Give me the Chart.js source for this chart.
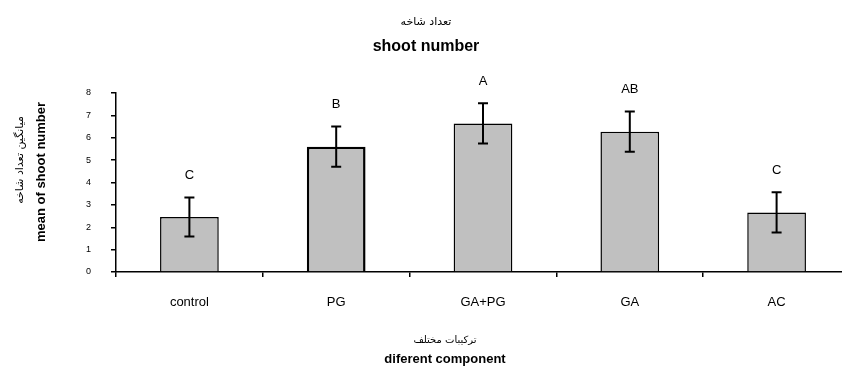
<!DOCTYPE html>
<html>
<head>
<meta charset="utf-8">
<script src="https://cdn.jsdelivr.net/npm/chart.js@4/dist/chart.umd.min.js"></script>
<style>
html,body{margin:0;padding:0;background:#fff;overflow:hidden;width:842px;height:367px;}
#wrap{width:852px;height:367px;}
</style>
</head>
<body>
<div id="wrap"><canvas id="c" width="852" height="367"></canvas></div>
<script>
const categories = ['control', 'PG', 'GA+PG', 'GA', 'AC'];
const means = [2.46, 5.60, 6.64, 6.27, 2.66];
const errors = [0.87, 0.90, 0.90, 0.90, 0.90];
const letters = ['C', 'B', 'A', 'AB', 'C'];
const yMin = 0, yMax = 8, yStep = 1;

const titleFa = 'تعداد شاخه';
const titleEn = 'shoot number';
const yTitleFa = 'میانگین تعداد شاخه';
const yTitleEn = 'mean of shoot number';
const xTitleFa = 'ترکیبات مختلف';
const xTitleEn = 'diferent component';

const extras = {
  id: 'extras',
  afterDatasetsDraw(chart) {
    const ctx = chart.ctx;
    const ys = chart.scales.y;
    const meta = chart.getDatasetMeta(0);
    ctx.save();
    // error bars
    ctx.strokeStyle = '#000';
    ctx.lineWidth = 2;
    meta.data.forEach((bar, i) => {
      const x = bar.x;
      const yt = ys.getPixelForValue(means[i] + errors[i]);
      const yb = ys.getPixelForValue(means[i] - errors[i]);
      ctx.beginPath();
      ctx.moveTo(x, yt); ctx.lineTo(x, yb);
      ctx.moveTo(x - 5, yt); ctx.lineTo(x + 5, yt);
      ctx.moveTo(x - 5, yb); ctx.lineTo(x + 5, yb);
      ctx.stroke();
      // significance letters
      ctx.fillStyle = '#000';
      ctx.font = '13px "Liberation Sans", Arial, sans-serif';
      ctx.textAlign = 'center';
      ctx.textBaseline = 'middle';
      ctx.fillText(letters[i], x, yt - 22);
    });
    ctx.restore();
  },
  afterDraw(chart) {
    const ctx = chart.ctx;
    ctx.save();
    ctx.fillStyle = '#000';
    ctx.textAlign = 'center';
    ctx.textBaseline = 'middle';
    // chart title
    ctx.font = '11px "DejaVu Sans", sans-serif';
    ctx.fillText(titleFa, 426, 22);
    ctx.font = 'bold 16px "Liberation Sans", Arial, sans-serif';
    ctx.fillText(titleEn, 426, 47);
    // x title
    ctx.font = '10px "DejaVu Sans", sans-serif';
    ctx.fillText(xTitleFa, 445, 340);
    ctx.font = 'bold 13px "Liberation Sans", Arial, sans-serif';
    ctx.fillText(xTitleEn, 445, 359);
    // y titles
    ctx.save();
    ctx.translate(20, 160);
    ctx.rotate(-Math.PI / 2);
    ctx.font = '11px "DejaVu Sans", sans-serif';
    ctx.fillText(yTitleFa, 0, 0);
    ctx.restore();
    ctx.save();
    ctx.translate(41, 172);
    ctx.rotate(-Math.PI / 2);
    ctx.font = 'bold 13px "Liberation Sans", Arial, sans-serif';
    ctx.fillText(yTitleEn, 0, 0);
    ctx.restore();
    ctx.restore();
  }
};

new Chart(document.getElementById('c'), {
  type: 'bar',
  data: {
    labels: categories,
    datasets: [{
      data: means,
      backgroundColor: '#c0c0c0',
      borderColor: '#000',
      borderWidth: [1.5, 2.5, 1.5, 1.5, 1.5],
      barPercentage: 0.40,
      categoryPercentage: 1.0
    }]
  },
  options: {
    responsive: false,
    animation: false,
    layout: { padding: { left: 0, right: 2, top: 93, bottom: 0 } },
    plugins: { legend: { display: false }, title: { display: false }, tooltip: { enabled: false } },
    scales: {
      x: {
        grid: { display: true, drawOnChartArea: false, drawTicks: true, tickLength: 5, color: '#000', lineWidth: 1.5, offset: true },
        border: { display: true, color: '#000', width: 1.5 },
        ticks: { color: '#000', padding: 18, font: { family: '"Liberation Sans", Arial, sans-serif', size: 13 }, maxRotation: 0 },
        afterFit(s) { s.height = 95; }
      },
      y: {
        min: yMin, max: yMax,
        grid: { display: true, drawOnChartArea: false, drawTicks: true, tickLength: 5, color: '#000', lineWidth: 1.5 },
        border: { display: true, color: '#000', width: 1.5 },
        ticks: { stepSize: yStep, color: '#000', padding: 20, font: { family: '"Liberation Sans", Arial, sans-serif', size: 9 } },
        afterFit(s) { s.width = 116; }
      }
    }
  },
  plugins: [extras]
});
</script>
</body>
</html>
